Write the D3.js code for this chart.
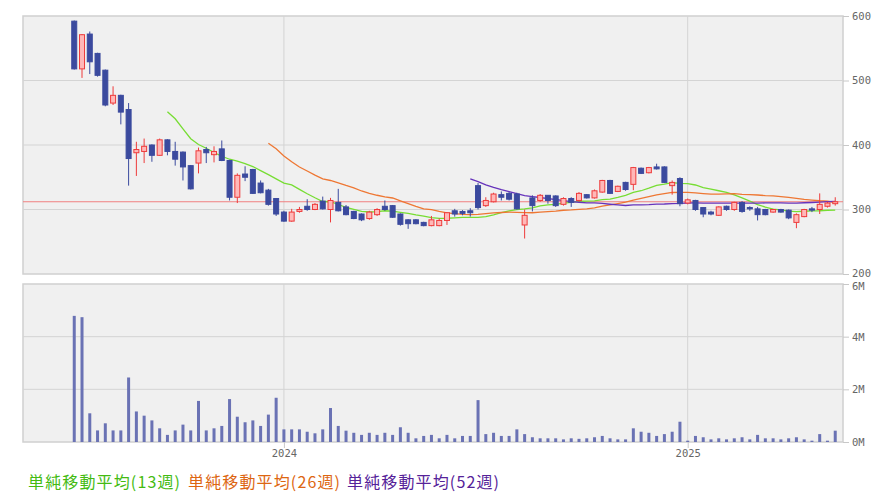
<!DOCTYPE html>
<html>
<head>
<meta charset="utf-8">
<script src="https://cdn.jsdelivr.net/npm/d3@7"></script>
<style>
  body { margin: 0; background: #fff; }
  .tick text { font-family: "DejaVu Sans Mono", monospace; font-size: 10.5px; fill: #666; }
  .legend { font-family: "Noto Sans CJK JP", sans-serif; font-size: 16px; }
</style>
</head>
<body>
<svg width="883" height="502"></svg>
<script>
// weekly candles (index 0 = first week shown)
var open = [592, 518, 572, 542, 516, 465, 477, 455, 388, 390, 400, 384, 408, 390, 389, 368, 372, 393, 385, 394,
  376, 319, 355, 362, 341, 330, 317, 296, 282, 297, 305, 300, 313, 300, 311, 304, 297, 293, 286, 292,
  305, 306, 293, 284, 284, 280, 275, 275, 283, 298, 297, 298, 337, 306, 312, 323, 325, 324, 276, 318,
  314, 322, 321, 308, 317, 314, 323, 318, 327, 345, 328, 342, 339, 364, 357, 366, 366, 337, 348, 310,
  314, 303, 296, 291, 305, 300, 311, 303, 301, 300, 296, 300, 299, 280, 289, 301, 300, 305, 309];
var high = [593, 572, 576, 543, 517, 491, 478, 465, 405, 410, 401, 410, 409, 405, 390, 369, 396, 397, 398, 407,
  377, 356, 367, 363, 345, 332, 317, 298, 301, 304, 316, 310, 320, 318, 332, 307, 298, 294, 298, 302,
  314, 307, 294, 285, 285, 281, 290, 286, 296, 301, 299, 302, 341, 319, 326, 328, 327, 326, 300, 322,
  324, 322, 322, 319, 319, 327, 324, 331, 346, 346, 337, 343, 366, 365, 366, 371, 367, 345, 350, 317,
  315, 303, 298, 305, 306, 312, 313, 305, 304, 301, 301, 301, 300, 294, 301, 304, 325, 312, 319];
var low = [517, 504, 510, 506, 460, 462, 432, 337, 352, 372, 374, 383, 384, 368, 345, 331, 356, 372, 373, 375,
  314, 310, 344, 324, 325, 306, 290, 281, 281, 295, 298, 299, 300, 280, 297, 291, 285, 282, 284, 290,
  298, 287, 275, 270, 277, 274, 274, 274, 276, 289, 291, 289, 300, 304, 311, 314, 314, 300, 255, 297,
  312, 309, 304, 306, 304, 312, 317, 317, 326, 324, 327, 329, 330, 355, 356, 362, 341, 323, 305, 308,
  298, 288, 291, 290, 298, 298, 295, 298, 283, 291, 295, 295, 285, 271, 288, 296, 293, 303, 306];
var close = [518, 571, 529, 508, 462, 477, 451, 379, 393, 398, 384, 408, 390, 378, 366, 332, 391, 388, 390, 376,
  319, 353, 350, 325, 326, 308, 293, 282, 296, 300, 300, 308, 301, 314, 298, 292, 286, 284, 296, 300,
  300, 288, 277, 278, 278, 275, 284, 283, 295, 293, 294, 295, 303, 314, 324, 319, 316, 301, 291, 306,
  322, 314, 306, 317, 311, 325, 318, 329, 345, 325, 336, 331, 365, 356, 365, 363, 342, 342, 309, 315,
  300, 293, 293, 304, 300, 311, 297, 301, 292, 292, 300, 296, 287, 292, 300, 299, 308, 310, 312];
// volume in millions of shares
var volume = [4.79, 4.74, 1.09, 0.44, 0.71, 0.44, 0.44, 2.45, 1.16, 1.0, 0.82, 0.52, 0.27, 0.44, 0.66, 0.44, 1.56, 0.44, 0.52, 0.61,
  1.63, 0.96, 0.75, 0.82, 0.61, 1.04, 1.68, 0.48, 0.48, 0.48, 0.39, 0.33, 0.48, 1.29, 0.61, 0.43, 0.35, 0.27, 0.35, 0.27,
  0.35, 0.27, 0.56, 0.35, 0.14, 0.23, 0.27, 0.14, 0.27, 0.14, 0.23, 0.23, 1.59, 0.30, 0.35, 0.23, 0.23, 0.48, 0.30, 0.18,
  0.14, 0.14, 0.14, 0.10, 0.14, 0.12, 0.14, 0.18, 0.23, 0.14, 0.10, 0.10, 0.52, 0.39, 0.35, 0.23, 0.30, 0.39, 0.77, 0.05,
  0.23, 0.18, 0.10, 0.14, 0.10, 0.14, 0.18, 0.10, 0.27, 0.14, 0.14, 0.10, 0.14, 0.18, 0.10, 0.05, 0.30, 0.05, 0.43];

var yearWeeks = [27, 79];
var yearLabels = ["2024", "2025"];
var priceTicks = [200, 300, 400, 500, 600];
var volumeTicks = [0, 2, 4, 6];
var maPeriods = [13, 26, 52];
var maColors = ["#77dd33", "#ee7733", "#6633bb"];
var legendColors = ["#44bb11", "#dd6611", "#552299"];

var svg = d3.select("svg"),
  left = 23, right = 843,
  price = { top: 16, bottom: 274 },
  vol = { top: 284, bottom: 442 };

var x = d3.scaleLinear().domain([-6.6, 99]).range([left, right]);
var y = d3.scaleLinear().domain([200, 600]).range([price.bottom, price.top]);
var yv = d3.scaleLinear().domain([0, 6]).range([vol.bottom, vol.top]);

var weeks = d3.range(close.length);

// panel backgrounds
[price, vol].forEach(function(p) {
  svg.append("rect")
    .attr("x", left).attr("y", p.top)
    .attr("width", right - left).attr("height", p.bottom - p.top)
    .attr("fill", "#f0f0f0").attr("stroke", "#d0d0d0").attr("stroke-width", 1.5);
});

// grid
svg.selectAll("line.hgrid")
  .data(priceTicks.slice(1, -1))
  .enter().append("line")
  .attr("class", "hgrid")
  .attr("x1", left).attr("x2", right)
  .attr("y1", d => y(d)).attr("y2", d => y(d))
  .attr("stroke", "#d4d4d4");

svg.selectAll("line.vgrid")
  .data(volumeTicks.slice(1, -1))
  .enter().append("line")
  .attr("class", "vgrid")
  .attr("x1", left).attr("x2", right)
  .attr("y1", d => yv(d)).attr("y2", d => yv(d))
  .attr("stroke", "#d4d4d4");

yearWeeks.forEach(function(w) {
  [price, vol].forEach(function(p) {
    svg.append("line")
      .attr("x1", x(w)).attr("x2", x(w))
      .attr("y1", p.top).attr("y2", p.bottom)
      .attr("stroke", "#d4d4d4");
  });
});

// axes
var axPrice = svg.append("g")
  .attr("transform", "translate(" + right + ",0)")
  .call(d3.axisRight(y).tickValues(priceTicks).tickSize(6).tickPadding(3));
var axVol = svg.append("g")
  .attr("transform", "translate(" + right + ",0)")
  .call(d3.axisRight(yv).tickValues(volumeTicks).tickSize(6).tickPadding(3).tickFormat(d => d + "M"));
var axX = svg.append("g")
  .attr("transform", "translate(0," + vol.bottom + ")")
  .call(d3.axisBottom(x).tickValues(yearWeeks).tickSize(6).tickPadding(2)
    .tickFormat((d, i) => yearLabels[i]));
[axPrice, axVol, axX].forEach(function(a) {
  a.select(".domain").remove();
  a.selectAll(".tick line").attr("stroke", "#c8c8c8");
});
// keep the top volume label clear of the bottom price label
axVol.selectAll(".tick text").filter(d => d === 6).attr("dy", "0.55em");
axPrice.selectAll(".tick text").filter(d => d === 200).attr("dy", "0.2em");

// current price line
svg.append("line")
  .attr("x1", left).attr("x2", right)
  .attr("y1", y(close[close.length - 1])).attr("y2", y(close[close.length - 1]))
  .attr("stroke", "#f08080");

// volume bars
svg.selectAll("rect.vol")
  .data(weeks)
  .enter().append("rect")
  .attr("class", "vol")
  .attr("x", d => x(d) - 1.5)
  .attr("width", 3)
  .attr("y", d => yv(volume[d]))
  .attr("height", d => yv(0) - yv(volume[d]))
  .attr("fill", "#6a72b4");

// moving averages
maPeriods.forEach(function(n, k) {
  var pts = weeks.filter(i => i >= n - 1).map(function(i) {
    return [i, d3.mean(close.slice(i - n + 1, i + 1))];
  });
  svg.append("path")
    .datum(pts)
    .attr("fill", "none")
    .attr("stroke", maColors[k])
    .attr("stroke-width", 1.3)
    .attr("d", d3.line().x(d => x(d[0])).y(d => y(d[1])));
});

// candles
var candle = svg.selectAll("g.candle")
  .data(weeks)
  .enter().append("g")
  .attr("class", "candle");

function up(i) { return close[i] >= open[i]; }

candle.append("line")
  .attr("x1", d => x(d)).attr("x2", d => x(d))
  .attr("y1", d => y(high[d])).attr("y2", d => y(low[d]))
  .attr("stroke", d => up(d) ? "#ee3b3b" : "#3b4a9e");

candle.append("rect")
  .attr("x", d => x(d) - 2.5)
  .attr("width", 5)
  .attr("y", d => y(Math.max(open[d], close[d])))
  .attr("height", d => Math.max(1, Math.abs(y(open[d]) - y(close[d]))))
  .attr("fill", d => up(d) ? "#ffb8b8" : "#3b4a9e")
  .attr("stroke", d => up(d) ? "#ee3b3b" : "#3b4a9e")
  .attr("stroke-width", 1);

// legend
var legendX = [28, 188, 347];
svg.selectAll("text.legend")
  .data(maPeriods)
  .enter().append("text")
  .attr("class", "legend")
  .attr("x", (d, i) => legendX[i])
  .attr("y", 488)
  .attr("textLength", 152)
  .attr("lengthAdjust", "spacing")
  .attr("fill", (d, i) => legendColors[i])
  .text(d => "単純移動平均(" + d + "週)");
</script>
</body>
</html>
